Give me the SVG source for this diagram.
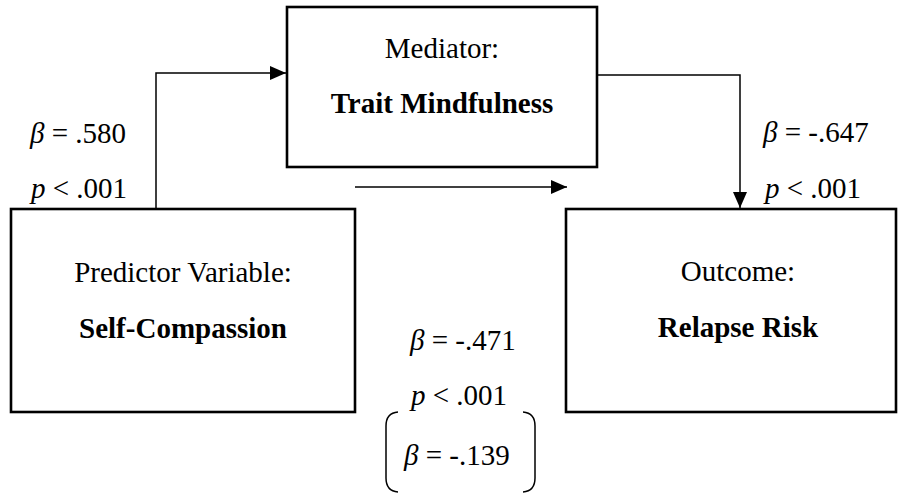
<svg xmlns="http://www.w3.org/2000/svg" width="902" height="495" viewBox="0 0 902 495">
<defs>
<style>
.box{fill:#fff;stroke:#000;stroke-width:2.6}
.t{font-family:"Liberation Serif","Times New Roman",serif;font-size:29px;fill:#000}
.c{text-anchor:middle}
.b{font-weight:bold}
.i{font-style:italic}
.ln{fill:none;stroke:#000;stroke-width:1.5}
</style>
<marker id="ahL" viewBox="0 0 16 14" refX="16" refY="7" markerWidth="16" markerHeight="14" markerUnits="userSpaceOnUse" orient="auto">
<path d="M0,0 L16,7 L0,14 Z" fill="#000"/>
</marker>
</defs>
<rect width="902" height="495" fill="#fff"/>
<g id="connectors">
<polyline class="ln" points="156,209 156,73 286,73" marker-end="url(#ahL)"/>
<polyline class="ln" points="597,75 740,75 740,208" marker-end="url(#ahL)"/>
<line class="ln" x1="355" y1="187" x2="567" y2="187" marker-end="url(#ahL)"/>
</g>
<g id="mediator">
<rect class="box" x="287" y="7" width="310" height="160"/>
<text class="t c" x="442" y="58">Mediator:</text>
<text class="t c b" x="442" y="113">Trait Mindfulness</text>
</g>
<g id="predictor">
<rect class="box" x="11" y="209" width="344" height="203"/>
<text class="t c" x="183" y="282">Predictor Variable:</text>
<text class="t c b" x="183" y="338">Self-Compassion</text>
</g>
<g id="outcome">
<rect class="box" x="566" y="209" width="330" height="203"/>
<text class="t c" x="738" y="281">Outcome:</text>
<text class="t c b" x="738" y="337">Relapse Risk</text>
</g>
<g id="labels">
<text class="t" x="30" y="143"><tspan class="i">β</tspan> = .580</text>
<text class="t" x="31" y="198"><tspan class="i">p</tspan> &lt; .001</text>
<text class="t" x="763" y="142"><tspan class="i">β</tspan> = -.647</text>
<text class="t" x="765" y="198"><tspan class="i">p</tspan> &lt; .001</text>
<text class="t" x="410" y="350"><tspan class="i">β</tspan> = -.471</text>
<text class="t" x="411" y="405"><tspan class="i">p</tspan> &lt; .001</text>
<text class="t" x="404" y="465"><tspan class="i">β</tspan> = -.139</text>
<path class="ln" d="M398,412 Q386,413 386,426 L386,478 Q386,491 398,492"/>
<path class="ln" d="M523,412 Q535,413 535,426 L535,478 Q535,491 523,492"/>
</g>
</svg>
